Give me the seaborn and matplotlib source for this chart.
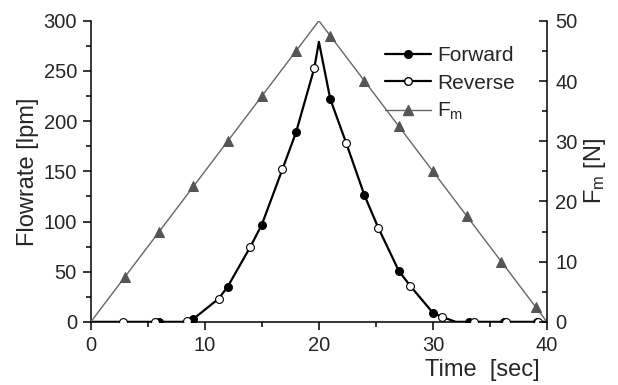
import numpy as np
import pandas as pd
import matplotlib
matplotlib.use('Agg')
import matplotlib.pyplot as plt
from matplotlib.lines import Line2D
from matplotlib.ticker import MultipleLocator
import seaborn as sns

# ---- data ------------------------------------------------------------
# black flowrate curve (lpm)
curve_t = [0, 2.8, 5.6, 6.0, 8.0, 8.4, 9.0, 11.2, 12.0, 14.0, 15.0, 16.8, 18.0,
           19.6, 20.0, 21.0, 22.4, 24.0, 25.2, 27.0, 28.0, 30.0, 30.8, 32.0,
           33.2, 33.6, 36.2, 36.4, 39.1, 39.2, 40.0]
curve_v = [0, 0, 0, 0, 0, 1, 3, 23, 35, 75, 97, 152, 189,
           253, 279, 222, 178, 126, 94, 51, 36, 9, 5, 0,
           0, 0, 0, 0, 0, 0, 0]

# forward markers (filled)
fwd_t = [6.0, 9.0, 12.0, 15.0, 18.0, 21.0, 24.0, 27.0, 30.0, 33.2, 36.2, 39.1]
fwd_v = [0, 3, 35, 97, 189, 222, 126, 51, 9, 0, 0, 0]

# reverse markers (open)
rev_t = [2.8, 5.6, 8.4, 11.2, 14.0, 16.8, 19.6, 22.4, 25.2, 28.0, 30.8, 33.6, 36.4, 39.2]
rev_v = [0, 0, 1, 23, 75, 152, 253, 178, 94, 36, 5, 0, 0, 0]

# F_m ramp (N)
fm_t = [0, 3, 6, 9, 12, 15, 18, 20, 21, 24, 27, 30, 33, 36, 39, 40]
fm_v = [0, 7.5, 15, 22.5, 30, 37.5, 45, 50, 47.5, 40, 32.5, 25, 17.5, 10, 2.5, 0]
fm_marked = [1, 2, 3, 4, 5, 6, 8, 9, 10, 11, 12, 13, 14]

# ---- style ------------------------------------------------------------
sns.set_style('ticks')
plt.rcParams['font.family'] = ['Liberation Sans', 'DejaVu Sans']
plt.rcParams['mathtext.fontset'] = 'custom'
plt.rcParams['mathtext.rm'] = 'Liberation Sans'
plt.rcParams['mathtext.it'] = 'Liberation Sans'

GRAY = '#666666'
TICK_FS = 14.5
LEG_FS = 15
LABEL_FS = 17

fig = plt.figure(figsize=(6.18, 3.85), dpi=100)
ax = fig.add_axes([0.147, 0.164, 0.738, 0.782])
ax2 = ax.twinx()

# ---- flowrate (left axis) ---------------------------------------------
sns.lineplot(x=curve_t, y=curve_v, ax=ax, color='black', linewidth=1.6,
             estimator=None, sort=False, zorder=3)
sns.scatterplot(x=fwd_t, y=fwd_v, ax=ax, marker='o', s=32, color='black',
                edgecolor='black', linewidth=0.8, zorder=4)
sns.scatterplot(x=rev_t, y=rev_v, ax=ax, marker='o', s=32, color='white',
                edgecolor='black', linewidth=0.8, zorder=5)

# ---- F_m (right axis) -------------------------------------------------
sns.lineplot(x=fm_t, y=fm_v, ax=ax2, color=GRAY, linewidth=1.0,
             estimator=None, sort=False, marker='^', markersize=7,
             markeredgecolor='#555555', markerfacecolor='#555555',
             markevery=fm_marked)

# ---- axes -------------------------------------------------------------
ax.set_xlim(0, 40)
ax.set_ylim(0, 300)
ax2.set_ylim(0, 50)
ax.xaxis.set_major_locator(MultipleLocator(10))
ax.xaxis.set_minor_locator(MultipleLocator(5))
ax.yaxis.set_major_locator(MultipleLocator(50))
ax.yaxis.set_minor_locator(MultipleLocator(25))
ax2.yaxis.set_major_locator(MultipleLocator(10))
ax2.yaxis.set_minor_locator(MultipleLocator(5))

for a in (ax, ax2):
    a.spines['top'].set_visible(False)
    for s in a.spines.values():
        s.set_linewidth(1.1)
        s.set_color('black')
ax.spines['right'].set_visible(False)
ax2.spines['left'].set_visible(False)
ax2.spines['bottom'].set_visible(False)

ax.tick_params(axis='both', which='major', direction='out', length=6, width=1.1,
               labelsize=TICK_FS, color='black', pad=4)
ax.tick_params(axis='both', which='minor', direction='out', length=3.5, width=1.1,
               color='black')
ax2.tick_params(axis='y', which='major', direction='in', length=6, width=1.1,
                labelsize=TICK_FS, color='black', pad=6)
ax2.tick_params(axis='y', which='minor', direction='in', length=3.5, width=1.1,
                color='black')

ax.set_ylabel('Flowrate [lpm]', fontsize=LABEL_FS, labelpad=3)
ax2.set_ylabel('F$_\\mathregular{m}$ [N]', fontsize=LABEL_FS, labelpad=3)
ax.set_xlabel('Time  [sec]', fontsize=LABEL_FS)
ax.xaxis.label.set_ha('right')
ax.xaxis.label.set_va('top')
ax.xaxis.set_label_coords(0.985, -0.125)

# ---- legend -----------------------------------------------------------
handles = [
    Line2D([], [], color='black', linewidth=1.6, marker='o', markersize=5.5,
           markerfacecolor='black', markeredgecolor='black'),
    Line2D([], [], color='black', linewidth=1.6, marker='o', markersize=5.5,
           markerfacecolor='white', markeredgecolor='black'),
    Line2D([], [], color=GRAY, linewidth=1.0, marker='^', markersize=7,
           markerfacecolor='#555555', markeredgecolor='#555555'),
]
ax2.legend(handles, ['Forward', 'Reverse', 'F$_\\mathregular{m}$'],
           loc='upper left', bbox_to_anchor=(0.645, 0.915), frameon=False,
           fontsize=LEG_FS, handlelength=2.2, handletextpad=0.3,
           labelspacing=0.4, borderpad=0, borderaxespad=0)

fig.savefig('out.png', dpi=100)
